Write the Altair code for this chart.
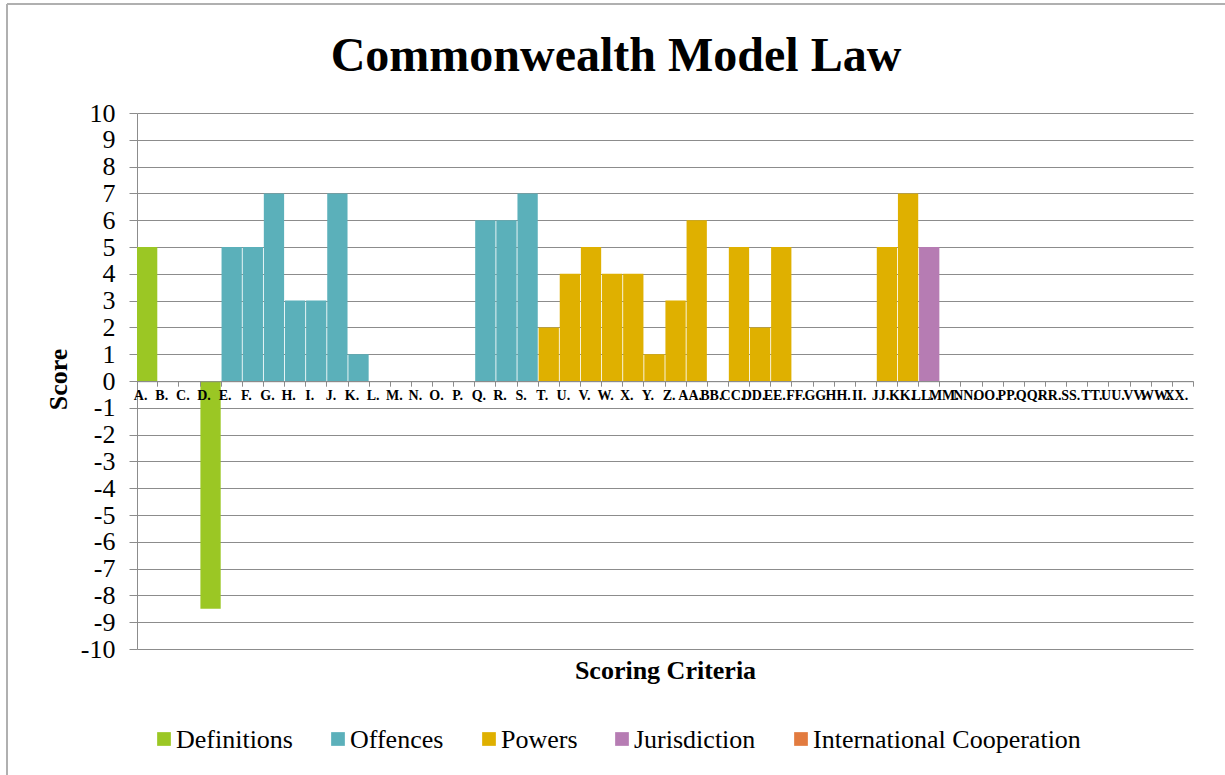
import altair as alt
import pandas as pd

labels = ["A.", "B.", "C.", "D.", "E.", "F.", "G.", "H.", "I.", "J.", "K.", "L.", "M.",
          "N.", "O.", "P.", "Q.", "R.", "S.", "T.", "U.", "V.", "W.", "X.", "Y.", "Z.",
          "AA.", "BB.", "CC.", "DD.", "EE.", "FF.", "GG.", "HH.", "II.", "JJ.", "KK.",
          "LL.", "MM.", "NN.", "OO.", "PP.", "QQ.", "RR.", "SS.", "TT.", "UU.", "VV.",
          "WW.", "XX."]
scores = [5, 0, 0, -8.5, 5, 5, 7, 3, 3, 7, 1, 0, 0,
          0, 0, 0, 6, 6, 7, 2, 4, 5, 4, 4, 1, 3,
          6, 0, 5, 2, 5, 0, 0, 0, 0, 5, 7,
          5, 0, 0, 0, 0, 0, 0, 0, 0, 0, 0,
          0, 0]
sections = (["Definitions"] * 4 + ["Offences"] * 15 + ["Powers"] * 18 +
            ["Jurisdiction"] * 1 + ["International Cooperation"] * 12)
groups = ["Definitions", "Offences", "Powers", "Jurisdiction", "International Cooperation"]
colors = ["#9BC724", "#5BB0BA", "#DFB000", "#B67CB3", "#E27B3F"]

df = pd.DataFrame({"label": labels, "value": scores, "section": sections})

FONT = "Liberation Serif"
W, H = 1056, 536
Y0 = 268.2  # pixel position of zero line inside plot
color_scale = alt.Scale(domain=groups, range=colors)

base = alt.Chart(df)

bars = base.mark_bar().encode(
    x=alt.X("label:N", sort=labels,
            scale=alt.Scale(domain=labels, paddingInner=0.04, paddingOuter=0),
            axis=alt.Axis(orient="bottom", offset=-(H - Y0), labelAngle=0,
                          labelFont=FONT, labelFontSize=14, labelFontWeight="bold",
                          labelColor="black", labelOffset=-7, labelPadding=2,
                          labelOverlap=False, labelBound=False, labelFlush=False,
                          tickBand="extent", tickSize=5, tickColor="#8c8c8c",
                          domainColor="#8c8c8c", domainWidth=1, zindex=1,
                          title="Scoring Criteria", titleFont=FONT, titleFontSize=26,
                          titleFontWeight="bold", titleColor="black",
                          titleBaseline="alphabetic", titleY=297)),
    y=alt.Y("value:Q",
            scale=alt.Scale(domain=[-10, 10], nice=False, zero=True),
            axis=alt.Axis(values=list(range(-10, 11)), grid=True, gridColor="#8c8c8c",
                          gridWidth=1, tickSize=8, tickColor="#8c8c8c",
                          domainColor="#8c8c8c", labelFont=FONT, labelFontSize=26,
                          labelColor="black", labelPadding=14,
                          labelExpr="'' + datum.value",
                          title="Score", titleFont=FONT, titleFontSize=26,
                          titleFontWeight="bold", titleColor="black",
                          titleAngle=-90, titleAlign="center", titleBaseline="middle",
                          titleX=-79, titleY=266)),
    color=alt.Color("section:N", scale=color_scale, legend=None),
).transform_filter("datum.value != 0")

# legend drawn as marks (symbol centre offsets relative to the plot's left edge)
legend_centres = [27, 201, 352, 485, 664]
LEG_Y = 739 - 113
legend_layers = []
for g, cx in zip(groups, legend_centres):
    gdf = pd.DataFrame({"section": [g]})
    legend_layers.append(
        alt.Chart(gdf).mark_square(size=188, opacity=1).encode(
            x=alt.value(cx), y=alt.value(LEG_Y),
            color=alt.Color("section:N", scale=color_scale, legend=None)))
    legend_layers.append(
        alt.Chart(gdf).mark_text(font=FONT, fontSize=26, color="black", align="left",
                                 baseline="middle", dx=12, dy=1).encode(
            x=alt.value(cx), y=alt.value(LEG_Y), text="section:N"))

title_df = pd.DataFrame({"t": ["Commonwealth Model Law"]})
title = alt.Chart(title_df).mark_text(
    font=FONT, fontSize=48, fontWeight="bold", color="black",
    align="center", baseline="alphabetic"
).encode(text="t:N", x=alt.value(616 - 137), y=alt.value(71 - 113))

border_df = pd.DataFrame({"k": [1]})
left_border = alt.Chart(border_df).mark_rule(color="#b0b0b0", strokeWidth=2).encode(
    x=alt.value(7 - 137), y=alt.value(4 - 113), y2=alt.value(775 - 113))
top_border = alt.Chart(border_df).mark_rule(color="#b0b0b0", strokeWidth=2).encode(
    x=alt.value(7 - 137), x2=alt.value(1225 - 137), y=alt.value(4 - 113))

chart = alt.layer(left_border, top_border, bars, title, *legend_layers).properties(
    width=W, height=H,
    autosize=alt.AutoSizeParams(type="none"),
    padding={"left": 137, "top": 113, "right": 32, "bottom": 126},
).configure(background="white", font=FONT).configure_view(stroke=None)

chart.save("out.html", embed_options={"renderer": "svg", "actions": False})
